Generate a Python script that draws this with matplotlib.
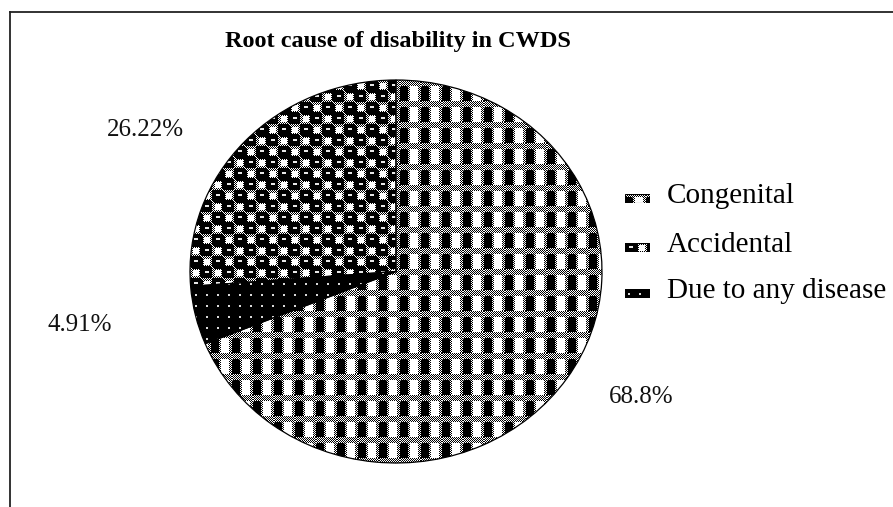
import numpy as np
import matplotlib
matplotlib.use('Agg')
import matplotlib.pyplot as plt
from matplotlib.lines import Line2D
from matplotlib.patches import Rectangle

# ---- data ----
categories = ['Congenital', 'Accidental', 'Due to any disease']
values = [68.8, 26.22, 4.91]
pct_labels = ['68.8%', '26.22%', '4.91%']
title = 'Root cause of disability in CWDS'

FW, FH = 893, 507
fig = plt.figure(figsize=(FW / 100, FH / 100), dpi=100)
fig.patch.set_facecolor('white')

def fx(px):
    return px / FW

def fy(py):
    return 1 - py / FH

# ---- textures ----
def congenital_tile():
    P = 21
    yy, xx = np.mgrid[0:P, 0:P]
    t = ((yy + xx) % 2).astype(float)
    for r in range(6, P):
        t[r, 0:8] = 0.0
        t[r, 10:18] = 1.0
    # slightly rounded tops of the black squares
    t[6, 0] = 0.5
    t[6, 7] = 0.5
    return t

def accidental_tile():
    P = 22
    yy, xx = np.mgrid[0:P, 0:P]
    t = ((yy + xx) % 2).astype(float)
    for (cy, cx) in [(5.5, 5.5), (16.5, 16.5)]:
        d = np.hypot(yy - cy, xx - cx)
        t[d <= 7.4] = 0.0
        hl = (np.abs(yy - (cy - 1.0)) <= 0.6) & (np.abs(xx - cx) <= 1.8)
        t[hl] = 0.9
    for (cy, cx) in [(5.5, 16.5), (16.5, 5.5)]:
        sq = (np.abs(yy - cy) <= 3) & (np.abs(xx - cx) <= 3)
        t[sq] = 1.0
    return t

def disease_tile():
    P = 11
    t = np.zeros((P, P))
    t[5:7, 5:7] = 0.85
    return t

def tiled(tile, H, W):
    ph, pw = tile.shape
    return np.tile(tile, (H // ph + 2, W // pw + 2))[:H, :W]

tiles = {'Congenital': congenital_tile(),
         'Accidental': accidental_tile(),
         'Due to any disease': disease_tile()}
swatch_off = {'Congenital': (3, 0), 'Accidental': (1, 0), 'Due to any disease': (1, 2)}

# ---- pie ----
AX_L, AX_T, AX_R, AX_B = 190, 80, 602, 463
ax = fig.add_axes([fx(AX_L), fy(AX_B), fx(AX_R - AX_L), (AX_B - AX_T) / FH])
order = [0, 2, 1]  # clockwise from top: Congenital, Disease, Accidental
wedges, _ = ax.pie([values[i] for i in order], startangle=90, counterclock=False,
                   wedgeprops=dict(facecolor='none', edgecolor='black', linewidth=0.9))
ax.set_aspect('auto')
W, H = AX_R - AX_L, AX_B - AX_T
for w, i in zip(wedges, order):
    img = tiled(tiles[categories[i]], H, W)
    im = ax.imshow(img, cmap='gray', vmin=0, vmax=1, extent=(-1, 1, -1, 1),
                   interpolation='nearest', aspect='auto', zorder=0)
    im.set_clip_path(w)
    w.set_zorder(2)
ax.set_xlim(-1, 1)
ax.set_ylim(-1, 1)
ax.axis('off')

# ---- percentage labels ----
lab_pos = {'68.8%': (641, 397), '26.22%': (145, 130), '4.91%': (80, 325)}
for lab in pct_labels:
    x, y = lab_pos[lab]
    fig.text(fx(x), fy(y), lab, ha='center', va='center', fontsize=18,
             family='Liberation Serif', color='#111111')

# ---- title ----
fig.text(fx(398), fy(41), title, ha='center', va='center', fontsize=17.5,
         fontweight='bold', family='Liberation Serif', color='black')

# ---- legend ----
leg_rows = [203, 252, 298]
for cat, base in zip(categories, leg_rows):
    sw_h, sw_w = 9, 25
    sax = fig.add_axes([fx(625), fy(base), fx(sw_w), sw_h / FH])
    r0, c0 = swatch_off[cat]
    big = tiled(tiles[cat], 60, 60)
    sample = big[r0:r0 + sw_h, c0:c0 + sw_w]
    sax.imshow(sample, cmap='gray', vmin=0, vmax=1, interpolation='nearest',
               aspect='auto', extent=(0, 1, 0, 1))
    sax.add_patch(Rectangle((0, 0), 1, 1, fill=False, edgecolor='black', lw=0.8,
                            transform=sax.transAxes))
    sax.set_xlim(0, 1)
    sax.set_ylim(0, 1)
    sax.axis('off')
    fig.text(fx(667), fy(base), cat, ha='left', va='baseline', fontsize=21,
             family='Liberation Serif', color='black')

# ---- frame lines ----
fig.add_artist(Line2D([fx(10), fx(10)], [fy(12), 0], color='#222222', lw=1.3))
fig.add_artist(Line2D([fx(10), 1], [fy(12), fy(12)], color='#222222', lw=1.3))

fig.savefig('out.png', dpi=100)
